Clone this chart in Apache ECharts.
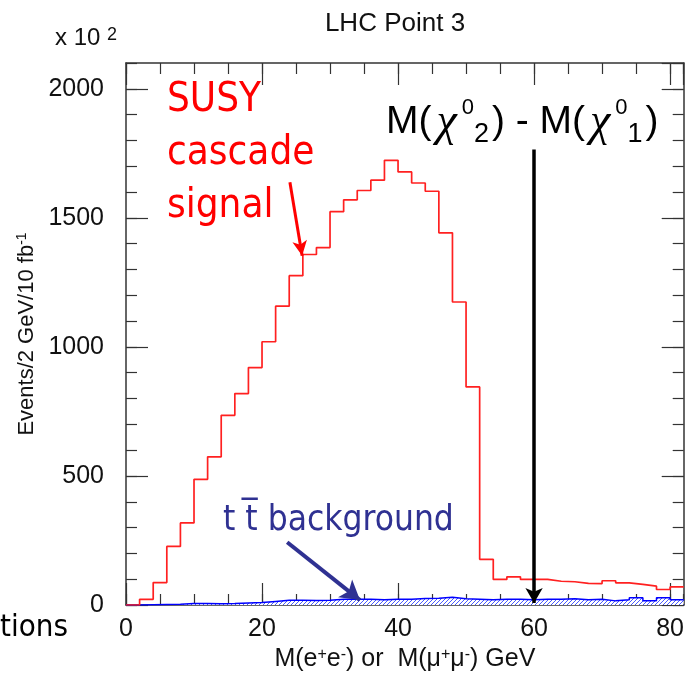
<!DOCTYPE html>
<html>
<head>
<meta charset="utf-8">
<script src="https://cdn.jsdelivr.net/npm/echarts@6/dist/echarts.min.js"></script>
<style>
html, body { margin: 0; padding: 0; background: #fff; }
#chart { width: 687px; height: 677px; }
</style>
</head>
<body>
<div id="chart"></div>
<script>
// histogram bin edges, M(ll) in GeV (2 GeV bins)
var binEdges = [0, 2, 4, 6, 8, 10, 12, 14, 16, 18, 20, 22, 24, 26, 28, 30, 32, 34, 36, 38, 40,
  42, 44, 46, 48, 50, 52, 54, 56, 58, 60, 62, 64, 66, 68, 70, 72, 74, 76, 78, 80, 82]

// events / 2 GeV / 10 fb-1, one value per bin
var signal = [0, 22, 87, 227, 318, 487, 574, 735, 819, 920, 1020, 1158, 1276, 1358, 1385, 1524,
  1570, 1606, 1646, 1723, 1678, 1635, 1603, 1442, 1174, 845, 177, 99, 109, 99, 99, 92, 90, 84,
  83, 94, 86, 80, 73, 60, 70]
var background = [0, 1, 2, 3, 6, 6, 5, 6, 8, 10, 14, 18, 18, 17, 18, 22, 22, 22, 20, 22, 22, 25,
  26, 30, 24, 22, 20, 22, 22, 20, 22, 22, 24, 20, 22, 16, 20, 28, 16, 28, 20]

var xTicks = [0, 20, 40, 60, 80]
var yTicks = [0, 500, 1000, 1500, 2000]

// annotation arrows, in data units [x, y]
var endpointArrow = [[60, 1765], [60, 8]]
var signalArrow = [[24.1, 1638], [25.9, 1353]]
var bgArrow = [[23.7, 243], [34.4, 19]]

var sansFont = '"Liberation Sans", Arial, sans-serif'
var slideFont = '"DejaVu Sans Condensed", "DejaVu Sans", sans-serif'
var frameColor = '#333'

function histPoints(values) {
  var pts = []
  for (var i = 0; i < values.length; i++) {
    pts.push([binEdges[i], values[i]])
  }
  pts.push([binEdges[values.length], values[values.length - 1]])
  return pts
}

function arrowLine(pts, color, width, size) {
  return {
    silent: true,
    symbol: ['none', 'arrow'],
    symbolSize: size,
    label: { show: false },
    lineStyle: { color: color, width: width, type: 'solid' },
    itemStyle: { color: color },
    data: [[{ coord: pts[0] }, { coord: pts[1] }]]
  }
}

var hatch = document.createElement('canvas')
hatch.width = 4
hatch.height = 4
var hctx = hatch.getContext('2d')
hctx.fillStyle = '#fff'
hctx.fillRect(0, 0, 4, 4)
hctx.strokeStyle = '#4a5cff'
hctx.lineWidth = 1
hctx.beginPath()
hctx.moveTo(0, 4)
hctx.lineTo(4, 0)
hctx.stroke()

function xAxis(pos, interval, len, main) {
  return {
    type: 'value', position: pos, min: 0, max: 82, interval: interval,
    axisLine: { show: main, onZero: false, lineStyle: { color: frameColor, width: 1.5 } },
    axisTick: { inside: true, length: len, lineStyle: { color: frameColor, width: 1.2 } },
    axisLabel: {
      show: main && pos === 'bottom', showMaxLabel: false, margin: 12,
      fontSize: 25, fontFamily: sansFont, color: '#111',
      formatter: function(v) { return xTicks.indexOf(v) >= 0 ? String(v) : '' }
    },
    splitLine: { show: false }
  }
}

function yAxis(pos, interval, len, main) {
  return {
    type: 'value', position: pos, min: 0, max: 2100, interval: interval,
    axisLine: { show: main, onZero: false, lineStyle: { color: frameColor, width: 1.5 } },
    axisTick: { inside: true, length: len, lineStyle: { color: frameColor, width: 1.2 } },
    axisLabel: {
      show: main && pos === 'left', showMaxLabel: false, margin: 22,
      fontSize: 25, fontFamily: sansFont, color: '#111',
      formatter: function(v) { return yTicks.indexOf(v) >= 0 ? String(v) : '' }
    },
    splitLine: { show: false }
  }
}

var xs = [xAxis('bottom', 20, 22, true), xAxis('bottom', 5, 11, false),
  xAxis('top', 20, 22, true), xAxis('top', 5, 11, false)]
xs[0].name = 'M(e{sup|+}e{sup|-}) or  M(μ{sup|+}μ{sup|-}) GeV'
xs[0].nameLocation = 'middle'
xs[0].nameGap = 42
xs[0].nameTextStyle = {
  fontSize: 25, fontFamily: sansFont, color: '#111',
  rich: { sup: { fontSize: 16, fontFamily: sansFont, color: '#111', verticalAlign: 'top' } }
}

var ys = [yAxis('left', 500, 22, true), yAxis('left', 100, 11, false),
  yAxis('right', 500, 22, true), yAxis('right', 100, 11, false)]
ys[0].name = 'Events/2 GeV/10 fb{sup|-1}'
ys[0].nameLocation = 'middle'
ys[0].nameGap = 80
ys[0].nameTextStyle = {
  fontSize: 22, fontFamily: sansFont, color: '#111',
  rich: { sup: { fontSize: 14, fontFamily: sansFont, color: '#111', verticalAlign: 'top' } }
}

var chart = echarts.init(document.getElementById('chart'))
chart.setOption({
  animation: false,
  backgroundColor: '#fff',
  grid: { left: 126, right: 3, top: 63, bottom: 69, containLabel: false },
  xAxis: xs,
  yAxis: ys,
  series: [
    {
      name: 'ttbar', type: 'line', step: 'end', symbol: 'none', z: 2,
      data: histPoints(background),
      lineStyle: { color: '#0000ff', width: 1.5 },
      areaStyle: { color: { image: hatch, repeat: 'repeat' }, opacity: 1 },
      markLine: arrowLine(bgArrow, '#2f3192', 4, [17, 19])
    },
    {
      name: 'susy', type: 'line', step: 'end', symbol: 'none', z: 3,
      data: histPoints(signal),
      lineStyle: { color: '#ff2020', width: 1.7 },
      markLine: arrowLine(signalArrow, '#ff0000', 3, [11, 15])
    },
    {
      name: 'endpoint', type: 'line', data: [], z: 4,
      markLine: arrowLine(endpointArrow, '#000', 3.5, [13, 15])
    }
  ],
  graphic: [
    {
      type: 'text', x: 395, y: 24,
      style: { text: 'LHC Point 3', font: '26px ' + sansFont, fill: '#111', align: 'center', verticalAlign: 'middle' }
    },
    {
      type: 'text', x: 55, y: 38,
      style: {
        text: 'x 10 {sup|2}', font: '24px ' + sansFont, fill: '#111', verticalAlign: 'middle',
        rich: { sup: { fontSize: 18, fontFamily: sansFont, fill: '#111', verticalAlign: 'top' } }
      }
    },
    {
      type: 'text', x: 167, y: 74,
      style: { text: 'SUSY\ncascade\nsignal', font: '40px ' + slideFont, fill: '#ff0000', lineHeight: 53, verticalAlign: 'top' }
    },
    {
      type: 'text', x: 386, y: 122.5,
      style: {
        text: '{b|M(}{c|χ}{sup|0}{sub|2}{b|) - M(}{c|χ}{sup|0}{sub|1}{b|)}',
        verticalAlign: 'middle',
        rich: {
          b: { fontSize: 39, fontFamily: sansFont, fill: '#000', lineHeight: 52 },
          c: { fontSize: 46, fontStyle: 'italic', fontFamily: '"Liberation Serif", serif', fill: '#000', lineHeight: 52, padding: [0, 5, 0, 5] },
          sup: { fontSize: 22, fontFamily: sansFont, fill: '#000', lineHeight: 38, verticalAlign: 'top' },
          sub: { fontSize: 27, fontFamily: sansFont, fill: '#000', lineHeight: 21, verticalAlign: 'bottom', padding: [0, 3, 0, 0] }
        }
      }
    },
    {
      type: 'text', x: 223, y: 521,
      style: { text: 't t\u0305 background', font: '35px ' + slideFont, fill: '#2f3192', verticalAlign: 'middle' }
    },
    {
      type: 'text', x: 68, y: 628,
      style: { text: 'tions', font: '31px ' + slideFont, fill: '#000', align: 'right', verticalAlign: 'middle' }
    }
  ]
})
</script>
</body>
</html>
